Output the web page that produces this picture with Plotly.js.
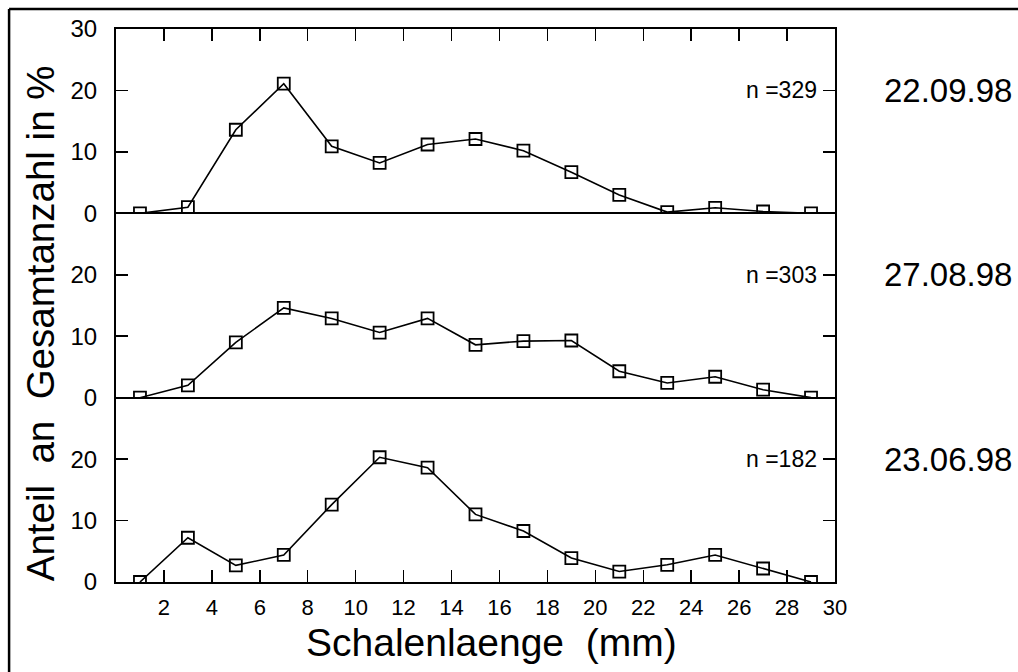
<!DOCTYPE html>
<html>
<head>
<meta charset="utf-8">
<script src="https://cdn.plot.ly/plotly-3.0.1.min.js"></script>
<style>html,body{margin:0;padding:0;background:#fff;}#chart{width:1018px;height:672px;}</style>
</head>
<body>
<div id="chart"></div>
<script>
// Shell length classes (mm)
const lengths = [1, 3, 5, 7, 9, 11, 13, 15, 17, 19, 21, 23, 25, 27, 29];
// Share of total count in % per sampling date
const sep22 = [0, 1.0, 13.6, 21.1, 10.9, 8.2, 11.2, 12.1, 10.2, 6.7, 3.0, 0.2, 0.9, 0.3, 0];
const aug27 = [0, 2.0, 9.0, 14.6, 12.9, 10.6, 12.9, 8.6, 9.2, 9.3, 4.3, 2.4, 3.4, 1.3, 0];
const jun23 = [0, 7.2, 2.7, 4.4, 12.6, 20.3, 18.6, 11.0, 8.3, 3.9, 1.7, 2.8, 4.4, 2.2, 0];
const dates = ["22.09.98", "27.08.98", "23.06.98"];
const counts = ["n =329", "n =303", "n =182"];
const xTicks = [2, 4, 6, 8, 10, 12, 14, 16, 18, 20, 22, 24, 26, 28, 30];
const yTicksTop = [0, 10, 20, 30];
const yTicks = [0, 10, 20];

const FONT = "Liberation Sans, Arial, Helvetica, sans-serif";

function series(y, xa, ya) {
  return {
    x: lengths, y: y, xaxis: xa, yaxis: ya,
    type: 'scatter', mode: 'lines+markers',
    line: {color: '#000', width: 1.6},
    marker: {symbol: 'square-open', size: 12, color: '#000', line: {width: 1.8, color: '#000'}},
    hoverinfo: 'x+y', showlegend: false
  };
}

const data = [
  series(sep22, 'x2', 'y3'),
  series(aug27, 'x', 'y2'),
  series(jun23, 'x', 'y')
];

const yBase = {
  range: [0, 30], ticks: 'inside', ticklen: 12, tickwidth: 1.5, tickcolor: '#000',
  showline: true, linecolor: '#000', linewidth: 2, mirror: 'ticks',
  showgrid: false, tickfont: {family: FONT, size: 24, color: '#000'},
  ticklabelstandoff: 12, fixedrange: true
};

const layout = {
  width: 1018, height: 672,
  margin: {l: 116, r: 182.5, t: 29, b: 89.5},
  paper_bgcolor: '#fff', plot_bgcolor: '#fff',
  font: {family: FONT, color: '#000'},
  xaxis: {
    range: [0, 30], anchor: 'y', domain: [0, 1],
    tickvals: xTicks, ticktext: xTicks.map(String),
    ticks: 'inside', ticklen: 12, tickwidth: 1.5, tickcolor: '#000',
    showline: true, linecolor: '#000', linewidth: 2,
    showgrid: false, zeroline: false,
    tickfont: {family: FONT, size: 22, color: '#000'},
    ticklabelstandoff: 5, fixedrange: true
  },
  xaxis2: {
    range: [0, 30], anchor: 'y3', overlaying: 'x', side: 'top', matches: 'x',
    tickvals: xTicks, ticks: 'inside', ticklen: 12, tickwidth: 1.5, tickcolor: '#000',
    showticklabels: false, showline: true, linecolor: '#000', linewidth: 2,
    showgrid: false, zeroline: false, fixedrange: true
  },
  yaxis: Object.assign({}, yBase, {domain: [0, 1/3], anchor: 'x', tickvals: yTicks, zeroline: false}),
  yaxis2: Object.assign({}, yBase, {domain: [1/3, 2/3], anchor: 'x', tickvals: yTicks,
    zeroline: true, zerolinecolor: '#000', zerolinewidth: 2}),
  yaxis3: Object.assign({}, yBase, {domain: [2/3, 1], anchor: 'x2', tickvals: yTicksTop,
    zeroline: true, zerolinecolor: '#000', zerolinewidth: 2}),
  shapes: [
    {type: 'line', xref: 'paper', yref: 'paper', x0: -0.1487, x1: 1.30, y0: 1.0361, y1: 1.0361,
     line: {color: '#000', width: 2.5}},
    {type: 'line', xref: 'paper', yref: 'paper', x0: -0.1487, x1: -0.1487, y0: 1.0361, y1: -0.2,
     line: {color: '#000', width: 2.5}}
  ],
  annotations: []
};

const yRefs = ['y3', 'y2', 'y'];
for (let i = 0; i < 3; i++) {
  layout.annotations.push({
    xref: 'paper', yref: yRefs[i], x: 1, y: 20, xanchor: 'right', yanchor: 'middle',
    xshift: -16, text: counts[i], showarrow: false,
    font: {family: FONT, size: 23, color: '#000'}
  });
  layout.annotations.push({
    xref: 'paper', yref: yRefs[i], x: 1.066, y: 20, xanchor: 'left', yanchor: 'middle',
    text: dates[i], showarrow: false,
    font: {family: FONT, size: 33, color: '#000'}
  });
}
layout.annotations.push({
  xref: 'paper', yref: 'paper', x: 0.522, y: -0.1093, xanchor: 'center', yanchor: 'middle',
  text: 'Schalenlaenge  (mm)', showarrow: false,
  font: {family: FONT, size: 39, color: '#000'}
});
layout.annotations.push({
  xref: 'paper', yref: 'paper', x: -0.105, y: 0.467, xanchor: 'center', yanchor: 'middle',
  textangle: -90, text: 'Anteil  an  Gesamtanzahl in %', showarrow: false,
  font: {family: FONT, size: 38.5, color: '#000'}
});

Plotly.newPlot('chart', data, layout, {displayModeBar: false, staticPlot: true});
</script>
</body>
</html>
